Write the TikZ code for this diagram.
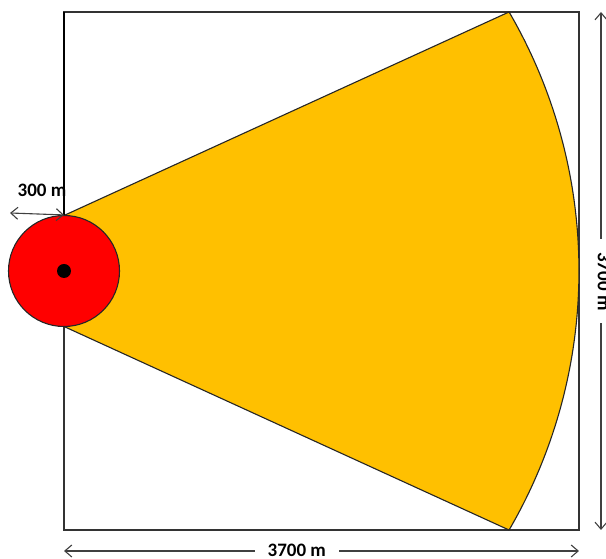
\documentclass[tikz,border=0pt]{standalone}
\usepackage{fontspec}
\setmainfont{Carlito}
\usepackage{xcolor}
\usepackage{tikz}
\usetikzlibrary{arrows.meta,calc}
\definecolor{sectorfill}{HTML}{FFC000}
\definecolor{sitefill}{HTML}{FF0000}
\tikzstyle{dim}=[{Straight Barb[length=7pt,width=12pt]}-{Straight Barb[length=7pt,width=12pt]}, line width=1.1pt, draw=black!75]
\tikzstyle{dimlabel}=[fill=white, inner xsep=13pt, inner ysep=2pt, font=\fontsize{19}{22}\selectfont\bfseries]

\begin{document}
\begin{tikzpicture}[
  x=1pt, y=1pt, line width=1.1pt,
  area/.style={draw=black!80, fill=white},
  sector/.style={draw=black!85, fill=sectorfill, line join=round},
  site/.style={circle, draw=black!85, fill=sitefill, minimum size=111pt, inner sep=0pt},
  mast/.style={circle, fill=black, minimum size=14pt, inner sep=0pt}]
\useasboundingbox (0,0) rectangle (606,559);
% corners and centre
\coordinate (sw)  at (64,29);
\coordinate (ne)  at (579,547);
\coordinate (ctr) at (64,288);
\coordinate (ctop) at (64,343.5);
\coordinate (cbot) at (64,232.5);
% area and coverage sector
\draw[area] (sw) rectangle (ne);
\draw[sector] (ctop) -- ($(ctr)+(30.2:515)$) arc[start angle=30.2, end angle=-30.2, radius=515] -- (cbot) -- cycle;
\node[site] (site) at (ctr) {};
\node[mast] (mast) at (ctr) {};
% radius
\node[font=\fontsize{19}{22}\selectfont\bfseries] (rlabel) at (42,369) {300 m};
\draw (64,547) -- (site.north);
\coordinate (rleft) at (10,346);
\draw[dim] (rleft) -- (site.north);
% dimensions
\coordinate (bl) at (64,8);
\coordinate (br) at (579,8);
\draw[dim] (bl) -- node[dimlabel, pos=0.452, yshift=1pt] (wlabel) {3700 m} (br);
\coordinate (rt) at (601,547);
\coordinate (rb) at (601,29);
\draw[dim] (rt) -- node[dimlabel, pos=0.52, xshift=3pt, rotate=-90] (hlabel) {3700 m} (rb);
\end{tikzpicture}
\end{document}
